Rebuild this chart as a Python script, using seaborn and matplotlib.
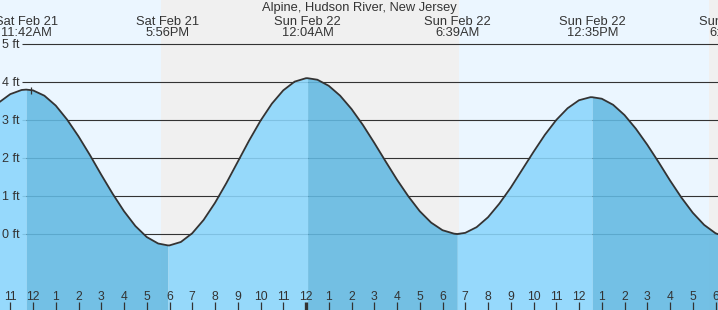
import matplotlib
matplotlib.use("Agg")
import matplotlib.pyplot as plt
import numpy as np
import pandas as pd
import seaborn as sns

# ---------------- data ----------------
title = "Alpine, Hudson River, New Jersey"

# tide extremes (hours since Sat Feb 21 00:00)
event_hours = [11.70, 17.93, 24.07, 30.65, 36.58, 42.72]
event_ft = [3.80, -0.30, 4.10, 0.00, 3.60, -0.10]
event_day = ["Sat Feb 21", "Sat Feb 21", "Sun Feb 22", "Sun Feb 22", "Sun Feb 22", "Sun Feb 22"]
event_time = ["11:42AM", "5:56PM", "12:04AM", "6:39AM", "12:35PM", "6:43PM"]

# tide heights
curve_hours = [10.5, 11.0, 11.5, 11.70, 12.0, 12.5, 13.0, 13.5, 14.0, 14.5, 15.0, 15.5,
               16.0, 16.5, 17.0, 17.5, 17.93, 18.0, 18.5, 19.0, 19.5, 20.0, 20.5, 21.0,
               21.5, 22.0, 22.5, 23.0, 23.5, 24.0, 24.07, 24.5, 25.0, 25.5, 26.0, 26.5,
               27.0, 27.5, 28.0, 28.5, 29.0, 29.5, 30.0, 30.5, 30.65, 31.0, 31.5, 32.0,
               32.5, 33.0, 33.5, 34.0, 34.5, 35.0, 35.5, 36.0, 36.5, 36.58, 37.0, 37.5,
               38.0, 38.5, 39.0, 39.5, 40.0, 40.5, 41.0, 41.5, 42.0, 42.5]
curve_ft = [3.46, 3.68, 3.79, 3.80, 3.78, 3.64, 3.38, 3.01, 2.57, 2.08, 1.56, 1.06,
            0.60, 0.21, -0.08, -0.25, -0.30, -0.30, -0.21, 0.02, 0.37, 0.82, 1.34, 1.90,
            2.46, 2.98, 3.43, 3.78, 4.01, 4.10, 4.10, 4.06, 3.90, 3.64, 3.29, 2.87,
            2.40, 1.91, 1.43, 0.99, 0.60, 0.30, 0.10, 0.01, 0.00, 0.03, 0.18, 0.44,
            0.80, 1.22, 1.69, 2.16, 2.61, 3.00, 3.31, 3.52, 3.60, 3.60, 3.56, 3.40,
            3.13, 2.77, 2.35, 1.89, 1.41, 0.96, 0.56, 0.24, 0.02, -0.09]

# sunset / sunrise (hours)
sunset1, sunrise, sunset2 = 17.63, 30.73, 41.70
now_hour = 11.9

ft_levels = [0, 1, 2, 3, 4, 5]
ft_labels = ["0 ft", "1 ft", "2 ft", "3 ft", "4 ft", "5 ft"]

tick_hours = list(range(11, 43))
tick_labels = ["11", "12", "1", "2", "3", "4", "5", "6", "7", "8", "9", "10", "11",
               "12", "1", "2", "3", "4", "5", "6", "7", "8", "9", "10", "11",
               "12", "1", "2", "3", "4", "5", "6"]
midnight_hour = 24

# ---------------- style ----------------
sns.set_style("white")
plt.rcParams["font.family"] = ["Liberation Sans", "DejaVu Sans"]

W, H = 718, 310
fig = plt.figure(figsize=(W / 100, H / 100), dpi=100)
ax = fig.add_axes([0, 0, 1, 1])

px_per_hour = 22.75
px_per_ft = 38.0
x0 = 12 - 33 / px_per_hour
x1 = 12 + (W - 33) / px_per_hour
y_top = 5 + 44 / px_per_ft
y_bot = 5 - (H - 44) / px_per_ft

DAY = "#ebf6ff"
NIGHT = "#f0f0f0"
FLOOD = "#8ad6fc"
EBB = "#62b9e2"
DARK = "#333333"

# background day/night
ax.axvspan(x0, sunset1, color=DAY, lw=0, zorder=0)
ax.axvspan(sunset1, sunrise, color=NIGHT, lw=0, zorder=0)
ax.axvspan(sunrise, sunset2, color=DAY, lw=0, zorder=0)
ax.axvspan(sunset2, x1 + 1, color=NIGHT, lw=0, zorder=0)

# horizontal grid
ax.hlines(ft_levels, 22 / W, 1, transform=ax.get_yaxis_transform(),
          color=DARK, lw=0.8, zorder=1)

# fill under curve, flood / ebb
df = pd.DataFrame({"hour": curve_hours, "ft": curve_ft})
bounds = [curve_hours[0]] + [h for h in event_hours if h <= curve_hours[-1]] + [curve_hours[-1]]
for a, b in zip(bounds[:-1], bounds[1:]):
    seg = df[(df.hour >= a - 1e-9) & (df.hour <= b + 1e-9)]
    rising = seg.ft.iloc[-1] > seg.ft.iloc[0]
    ax.fill_between(seg.hour, seg.ft, y_bot - 1, color=FLOOD if rising else EBB,
                    alpha=0.88, lw=0, zorder=2)

sns.lineplot(data=df, x="hour", y="ft", ax=ax, color=DARK, lw=1.3, zorder=3,
             legend=False)

# current time marker
ax.vlines(now_hour, 3.68, 3.88, color=DARK, lw=0.9, zorder=4)

# y labels
for lvl, lab in zip(ft_levels, ft_labels):
    ax.text(20 / W, lvl - 4 / px_per_ft, lab, transform=ax.get_yaxis_transform(),
            ha="right", va="baseline", fontsize=9.0, color=DARK, zorder=5)

# hour ticks and labels
xt = ax.get_xaxis_transform()
for h, lab in zip(tick_hours, tick_labels):
    ax.vlines(h, 0, 8 / H, transform=xt, color=DARK,
              lw=2.4 if h == midnight_hour else 0.9, zorder=5)
    ax.text(h, 1 - 299.5 / H, lab, transform=xt, ha="center", va="baseline",
            fontsize=8.7, color=DARK, zorder=5)

# event labels at top
for h, d, t in zip(event_hours, event_day, event_time):
    ax.text(h, 1 - 24.7 / H, d, transform=xt, ha="center", va="baseline",
            fontsize=9.3, color=DARK, zorder=5, clip_on=False)
    ax.text(h, 1 - 35.7 / H, t, transform=xt, ha="center", va="baseline",
            fontsize=9.3, color=DARK, zorder=5, clip_on=False)

fig.text(0.5, 1 - 11.5 / H, title, ha="center", va="baseline", fontsize=9.3, color=DARK)

ax.set_xlim(x0, x1)
ax.set_ylim(y_bot, y_top)
ax.set_xlabel("")
ax.set_ylabel("")
ax.axis("off")

fig.savefig("out.png", dpi=100)
